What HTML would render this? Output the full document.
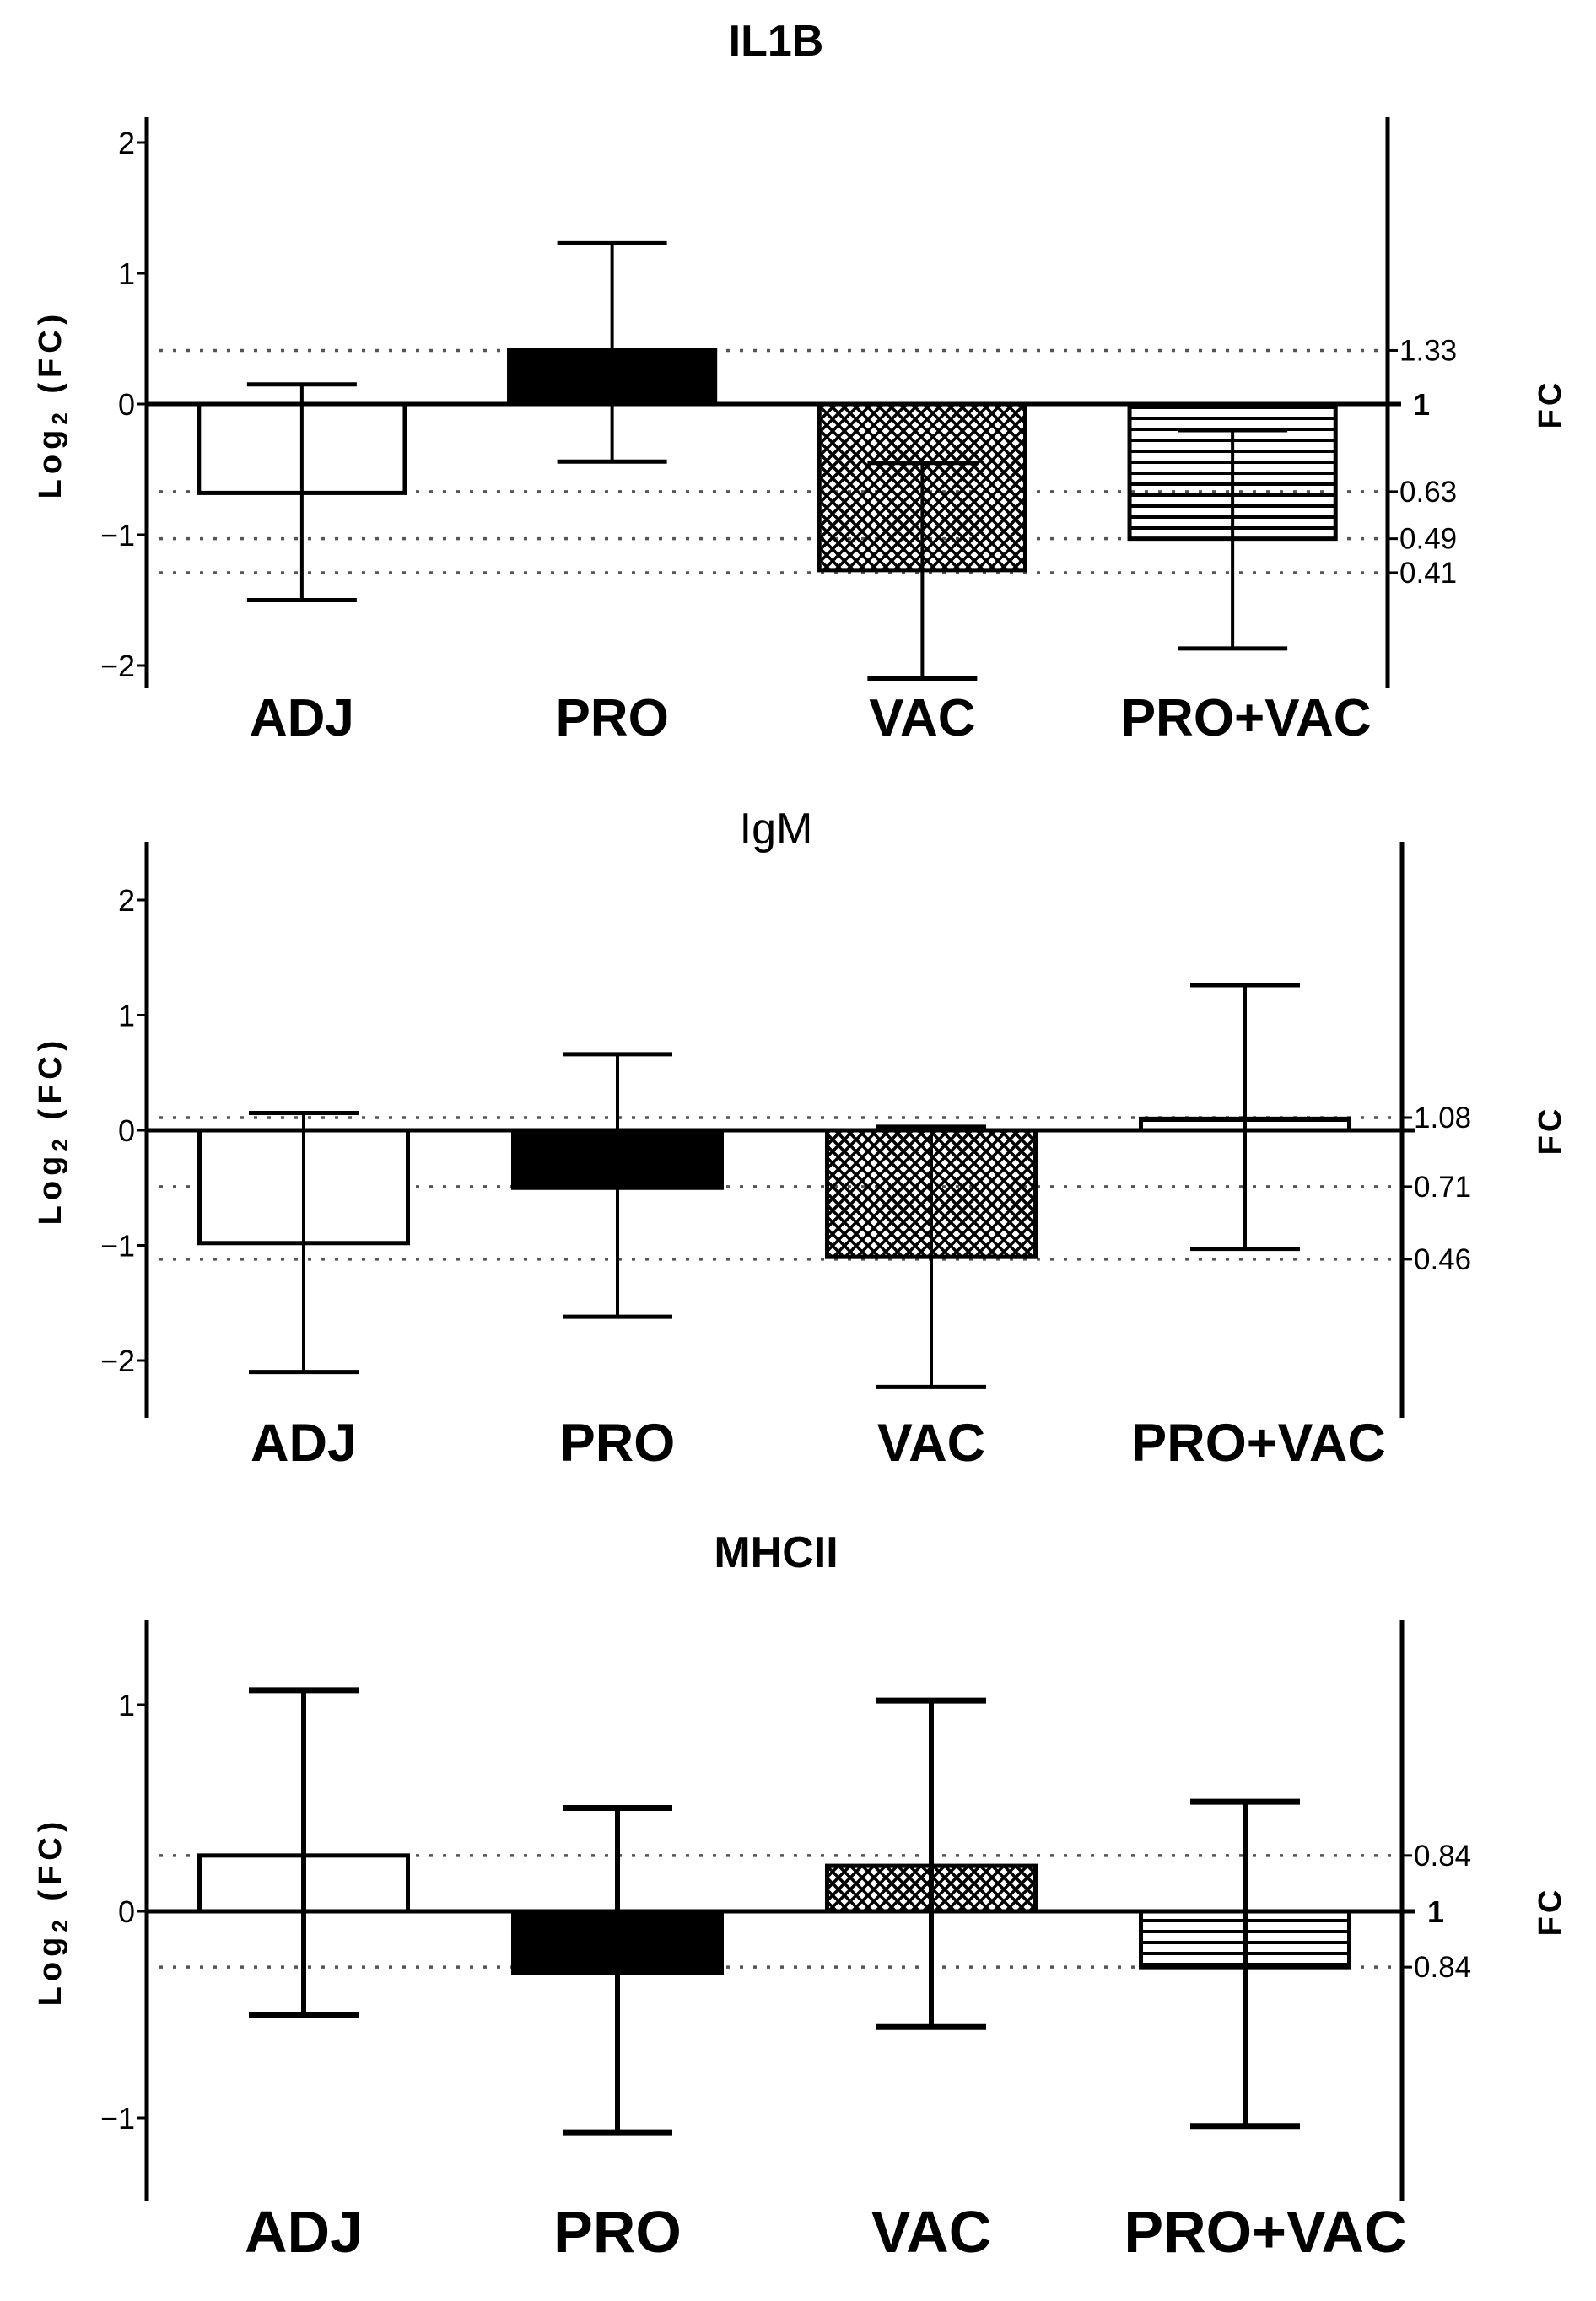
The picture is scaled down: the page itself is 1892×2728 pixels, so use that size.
<!DOCTYPE html>
<html><head><meta charset="utf-8"><style>
html,body{margin:0;padding:0;background:#fff}
svg{display:block}
text{font-family:"Liberation Sans",Arial,sans-serif;fill:#000}
</style></head><body>
<svg id="chart" width="1892" height="2728" viewBox="0 0 1892 2728" xmlns="http://www.w3.org/2000/svg">
<defs>
<pattern id="cross" patternUnits="userSpaceOnUse" width="14" height="14">
<path d="M0,0 L14,14 M14,0 L0,14" stroke="#000" stroke-width="3.5"/>
</pattern>
<pattern id="stripe" patternUnits="userSpaceOnUse" width="13" height="13">
<rect x="0" y="0" width="13" height="4" fill="#000"/>
</pattern>
</defs>
</svg>
<script>
var categories = ["ADJ", "PRO", "VAC", "PRO+VAC"];
var fills = ["#fff", "#000", "url(#cross)", "url(#stripe)"];

var il1bMeans = [-0.68, 0.41, -1.27, -1.03];
var il1bUpper = [0.15, 1.23, -0.45, -0.2];
var il1bLower = [-1.5, -0.44, -2.1, -1.87];
var il1bTicks = [2, 1, 0, -1, -2];
var il1bRefLines = [0.41, -0.67, -1.03, -1.29];
var il1bRefLabels = ["1.33", "0.63", "0.49", "0.41"];

var igmMeans = [-0.98, -0.5, -1.1, 0.1];
var igmUpper = [0.15, 0.66, 0.03, 1.26];
var igmLower = [-2.1, -1.62, -2.23, -1.03];
var igmTicks = [2, 1, 0, -1, -2];
var igmRefLines = [0.11, -0.49, -1.12];
var igmRefLabels = ["1.08", "0.71", "0.46"];

var mhcMeans = [0.27, -0.3, 0.22, -0.27];
var mhcUpper = [1.07, 0.5, 1.02, 0.53];
var mhcLower = [-0.5, -1.07, -0.56, -1.04];
var mhcTicks = [1, 0, -1];
var mhcRefLines = [0.27, -0.27];
var mhcRefLabels = ["0.84", "0.84"];

var NS = "http://www.w3.org/2000/svg";
var svg = document.getElementById("chart");
function mk(tag, attrs, parent, txt) {
  var e = document.createElementNS(NS, tag);
  for (var k in attrs) e.setAttribute(k, attrs[k]);
  if (txt !== undefined) e.textContent = txt;
  (parent || svg).appendChild(e);
  return e;
}

var panels = [
  {name:"il1b", title:"IL1B", tw:"bold", ty:66, left:174, right:1645, top:139, bottom:816, zeroY:479, unit:155,
   means:il1bMeans, up:il1bUpper, lo:il1bLower, ticks:il1bTicks, refs:il1bRefLines, refLabels:il1bRefLabels,
   lw:4, capw:130, labY:872, labFs:62, showOne:true, dx:8},
  {name:"igm", title:"IgM", tw:"normal", ty:1000, left:174, right:1662, top:998, bottom:1681, zeroY:1340, unit:136.5,
   means:igmMeans, up:igmUpper, lo:igmLower, ticks:igmTicks, refs:igmRefLines, refLabels:igmRefLabels,
   lw:4, capw:130, labY:1732, labFs:63, showOne:false, dx:8},
  {name:"mhcii", title:"MHCII", tw:"bold", ty:1858, left:174, right:1662, top:1921, bottom:2610, zeroY:2266, unit:245,
   means:mhcMeans, up:mhcUpper, lo:mhcLower, ticks:mhcTicks, refs:mhcRefLines, refLabels:mhcRefLabels,
   lw:6, capw:130, labY:2670, labFs:70, showOne:true, dx:12}
];

panels.forEach(function(p){
  var g = mk("g", {});
  
  
  function y(v){ return p.zeroY - v * p.unit; }
  var W = p.right - p.left;
  function cx(i){ return p.left + W * (i + 0.5) / categories.length; }
  var bw = W * 0.166;

  var t = mk("text", {x:920, y:p.ty, "text-anchor":"middle", "font-size":52, "font-weight":p.tw}, g, p.title);
  
  

  p.refs.forEach(function(v, i){
    var l = mk("line", {x1:p.left+15, x2:p.right-8, y1:y(v), y2:y(v), stroke:"#555", "stroke-width":3.5, "stroke-dasharray":"4 12"}, g);
    
    
    mk("line", {x1:p.right, x2:p.right+12, y1:y(v), y2:y(v), stroke:"#000", "stroke-width":3}, g);
    var tl = mk("text", {x:p.right+14, y:y(v)+12, "font-size":35}, g, p.refLabels[i]);
    
    
  });

  p.means.forEach(function(v, i){
    var y0 = Math.min(y(0), y(v)), h = Math.abs(y(v) - y(0));
    var r = mk("rect", {x:cx(i)-bw/2, y:y0, width:bw, height:h, fill:fills[i], stroke:"#000", "stroke-width":5}, g);
    
    
  });

  p.means.forEach(function(v, i){
    var c = cx(i);
    var eb = mk("g", {stroke:"#000", "stroke-width":p.lw}, g);
    
    
    mk("line", {x1:c, x2:c, y1:y(p.up[i]), y2:y(p.lo[i])}, eb);
    mk("line", {x1:c-p.capw/2, x2:c+p.capw/2, y1:y(p.up[i]), y2:y(p.up[i]), "stroke-width":p.lw+1}, eb);
    mk("line", {x1:c-p.capw/2, x2:c+p.capw/2, y1:y(p.lo[i]), y2:y(p.lo[i]), "stroke-width":p.lw+1}, eb);
  });

  var z = mk("line", {x1:p.left, x2:p.right+16, y1:y(0), y2:y(0), stroke:"#000", "stroke-width":5}, g);
  
  

  var la = mk("line", {x1:p.left, x2:p.left, y1:p.top, y2:p.bottom, stroke:"#000", "stroke-width":5}, g);
  
  
  var ra = mk("line", {x1:p.right, x2:p.right, y1:p.top, y2:p.bottom, stroke:"#000", "stroke-width":5}, g);
  
  

  p.ticks.forEach(function(v){
    mk("line", {x1:p.left-12, x2:p.left, y1:y(v), y2:y(v), stroke:"#000", "stroke-width":3}, g);
    var tl = mk("text", {x:p.left-14, y:y(v)+13, "text-anchor":"end", "font-size":36}, g, v < 0 ? "\u2212" + (-v) : String(v));
    
    
  });

  if (p.showOne) {
    var one = mk("text", {x:p.right+30, y:y(0)+13, "font-size":36, "font-weight":"bold"}, g, "1");
    
    
  }

  categories.forEach(function(c, i){
    var tl = mk("text", {x:cx(i)+(i===3?p.dx*2:0), y:p.labY, "text-anchor":"middle", "font-size":p.labFs, "font-weight":"bold"}, g, c);
    
    
  });

  var yt = mk("text", {x:0, y:0, "text-anchor":"middle", "font-size":38, "font-weight":"bold", "letter-spacing":6,
    transform:"translate(72," + p.zeroY + ") rotate(-90)"}, g);
  
  
  mk("tspan", {}, yt, "Log");
  mk("tspan", {"font-size":26, dy:8}, yt, "2");
  mk("tspan", {dy:-8}, yt, " (FC)");

  var ft = mk("text", {x:0, y:0, "text-anchor":"middle", "font-size":38, "font-weight":"bold", "letter-spacing":4,
    transform:"translate(1850," + p.zeroY + ") rotate(-90)"}, g, "FC");
  
  
});
</script>
</body></html>
